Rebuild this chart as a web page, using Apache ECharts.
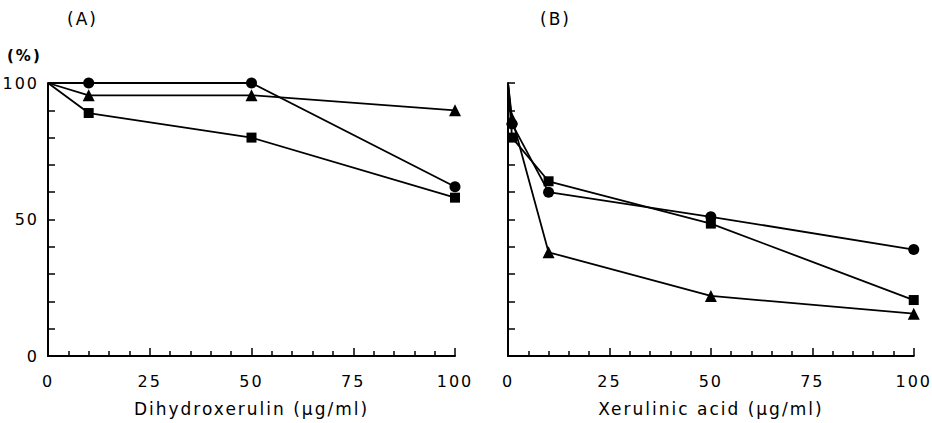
<!DOCTYPE html>
<html>
<head>
<meta charset="utf-8">
<script src="https://cdn.jsdelivr.net/npm/echarts@6/dist/echarts.min.js"></script>
<style>
  html, body { margin: 0; padding: 0; background: #fff; }
  #main { width: 932px; height: 423px; letter-spacing: 2px; }
</style>
</head>
<body>
<div id="main"></div>
<script>
// panel A: Dihydroxerulin
const xA = [0, 10, 50, 100];
const aCircle = [100, 100, 100, 62];
const aTriangle = [100, 95.5, 95.5, 90];
const aSquare = [100, 89, 80, 58];
// panel B: Xerulinic acid
const xB = [0, 1, 10, 50, 100];
const bCircle = [100, 85, 60, 51, 39];
const bTriangle = [100, 87, 38, 22, 15.5];
const bSquare = [100, 80, 64, 48.5, 20.5];

const xTicks = [0, 25, 50, 75, 100];
const yTicks = [0, 50, 100];

const font = 'DejaVu Sans';

// first point (origin) has no marker
function pts(xs, ys) {
    return xs.map(function (x, i) {
        return i === 0 ? { value: [x, ys[i]], symbol: 'none' } : [x, ys[i]];
    });
}

function line(name, idx, xs, ys, symbol, size) {
    return {
        name: name,
        type: 'line',
        xAxisIndex: idx,
        yAxisIndex: idx,
        data: pts(xs, ys),
        symbol: symbol,
        symbolSize: size,
        clip: false,
        lineStyle: { color: '#000', width: 1.8 },
        itemStyle: { color: '#000' },
        z: symbol === 'circle' ? 3 : 2
    };
}

function xAxis(idx, name) {
    return {
        type: 'value',
        gridIndex: idx,
        min: 0,
        max: 100,
        interval: 25,
        name: name,
        nameLocation: 'middle',
        nameGap: 44,
        nameTextStyle: { color: '#000', fontFamily: font, fontSize: 17 },
        axisLine: { lineStyle: { color: '#000', width: 2 } },
        axisTick: { inside: true, length: 8, lineStyle: { color: '#000', width: 1.5 } },
        minorTick: { show: true, splitNumber: 5, length: 5, lineStyle: { color: '#000', width: 1.5 } },
        axisLabel: {
            margin: 17, color: '#000', fontFamily: font, fontSize: 16,
            formatter: function (v) { return xTicks.indexOf(v) >= 0 ? String(v) : ''; }
        },
        splitLine: { show: false }
    };
}

function yAxis(idx, showLabel) {
    return {
        type: 'value',
        gridIndex: idx,
        min: 0,
        max: 100,
        interval: 50,
        axisLine: { show: true, lineStyle: { color: '#000', width: 2 } },
        axisTick: { inside: true, length: 7, lineStyle: { color: '#000', width: 1.5 } },
        minorTick: { show: true, splitNumber: 5, length: 7, lineStyle: { color: '#000', width: 1.5 } },
        axisLabel: {
            show: showLabel, margin: 9, color: '#000', fontFamily: font, fontSize: 16,
            formatter: function (v) { return yTicks.indexOf(v) >= 0 ? String(v) : ''; }
        },
        splitLine: { show: false }
    };
}

const chart = echarts.init(document.getElementById('main'), null, { renderer: 'svg' });
chart.setOption({
    backgroundColor: '#fff',
    animation: false,
    grid: [
        { left: 48, right: 477, top: 83, bottom: 67 },
        { left: 508, right: 17, top: 83, bottom: 67 }
    ],
    xAxis: [xAxis(0, 'Dihydroxerulin (μg/ml)'), xAxis(1, 'Xerulinic acid (μg/ml)')],
    yAxis: [yAxis(0, true), yAxis(1, false)],
    graphic: [
        { type: 'text', left: 67, top: 10, style: { text: '(A)', font: '17px "DejaVu Sans"', fill: '#000' } },
        { type: 'text', left: 540, top: 10, style: { text: '(B)', font: '17px "DejaVu Sans"', fill: '#000' } },
        { type: 'text', left: 7, top: 48, style: { text: '(%)', font: 'bold 15px "DejaVu Sans"', fill: '#000' } }
    ],
    series: [
        line('A circle', 0, xA, aCircle, 'circle', 11),
        line('A triangle', 0, xA, aTriangle, 'triangle', 12),
        line('A square', 0, xA, aSquare, 'rect', 10),
        line('B circle', 1, xB, bCircle, 'circle', 11),
        line('B triangle', 1, xB, bTriangle, 'triangle', 12),
        line('B square', 1, xB, bSquare, 'rect', 10)
    ]
});
</script>
</body>
</html>
